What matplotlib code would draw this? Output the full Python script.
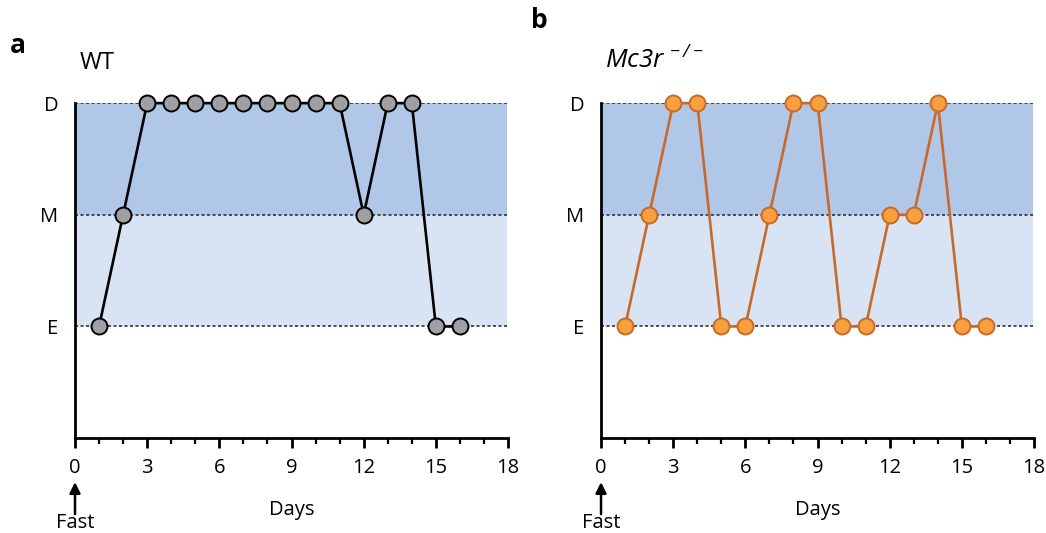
import matplotlib.pyplot as plt

plt.rcParams['font.family'] = ['Open Sans', 'DejaVu Sans']
plt.rcParams['mathtext.fontset'] = 'custom'
plt.rcParams['mathtext.it'] = 'Open Sans:italic'
plt.rcParams['mathtext.rm'] = 'Open Sans:italic'

days = list(range(1, 17))
# levels: E=1, M=2, D=3
wt_levels = [1, 2, 3, 3, 3, 3, 3, 3, 3, 3, 3, 2, 3, 3, 1, 1]
ko_levels = [1, 2, 3, 3, 1, 1, 2, 3, 3, 1, 1, 2, 2, 3, 1, 1]
level_labels = ['E', 'M', 'D']
level_ticks = [1, 2, 3]
x_ticks = [0, 3, 6, 9, 12, 15, 18]

fig = plt.figure(figsize=(10.46, 5.33), dpi=100)
px = 3 / 335  # data units per pixel in y


def panel(left, levels, line_color, face_color, edge_color, title, title_size,
          letter, letter_x, letter_y):
    ax = fig.add_axes([left, 0.178, 0.414, 0.6285])
    ax.axhspan(2, 3, xmin=0, xmax=17.95 / 18, color='#b1c7e8', lw=0, zorder=0)
    ax.axhspan(1, 2, xmin=0, xmax=17.95 / 18, color='#d8e4f4', lw=0, zorder=0)
    for lv in level_ticks:
        ax.axhline(lv, color='#222222', ls=(0, (2, 1.6)), lw=1.1, zorder=1)
    ax.plot(days, levels, color=line_color, lw=1.9, marker='o', ms=11.5,
            mfc=face_color, mec=edge_color, mew=1.4, clip_on=False, zorder=3)
    ax.set_xlim(0, 18)
    ax.set_ylim(0, 3)
    ax.spines['top'].set_visible(False)
    ax.spines['right'].set_visible(False)
    ax.spines['left'].set_linewidth(2)
    ax.spines['bottom'].set_linewidth(2)
    ax.set_xticks(x_ticks)
    ax.set_xticks(range(0, 19), minor=True)
    ax.tick_params(axis='x', which='major', length=7, width=2, labelsize=14.5, pad=7)
    ax.tick_params(axis='x', which='minor', length=4, width=1.6)
    ax.set_yticks(level_ticks)
    ax.set_yticklabels(level_labels)
    ax.tick_params(axis='y', length=0, labelsize=14.5, pad=12)
    ax.set_xlabel('Days', fontsize=14.5, labelpad=16)
    # arrow marking the start of the fast
    ax.annotate('', xy=(0, -44 * px), xytext=(0, -76 * px),
                arrowprops=dict(arrowstyle='-|>', color='black', lw=1.8,
                                mutation_scale=16, shrinkA=0, shrinkB=0),
                annotation_clip=False)
    ax.text(0, -85 * px, 'Fast', ha='center', va='center', fontsize=14.5)
    ax.text(0.01, 1.085, title, transform=ax.transAxes, fontsize=title_size,
            ha='left', va='bottom')
    fig.text(letter_x, letter_y, letter, fontsize=19, fontweight='bold',
             ha='left', va='center')
    return ax


panel(0.0717, wt_levels, 'black', '#a0a0a4', 'black', 'WT', 17,
      'a', 0.009, 0.915)
panel(0.5746, ko_levels, '#c8692c', '#f8a03e', '#c8692c',
      r'$Mc3r^{\,-/-}$', 18.5, 'b', 0.508, 0.962)

fig.savefig('out.png', dpi=100)
